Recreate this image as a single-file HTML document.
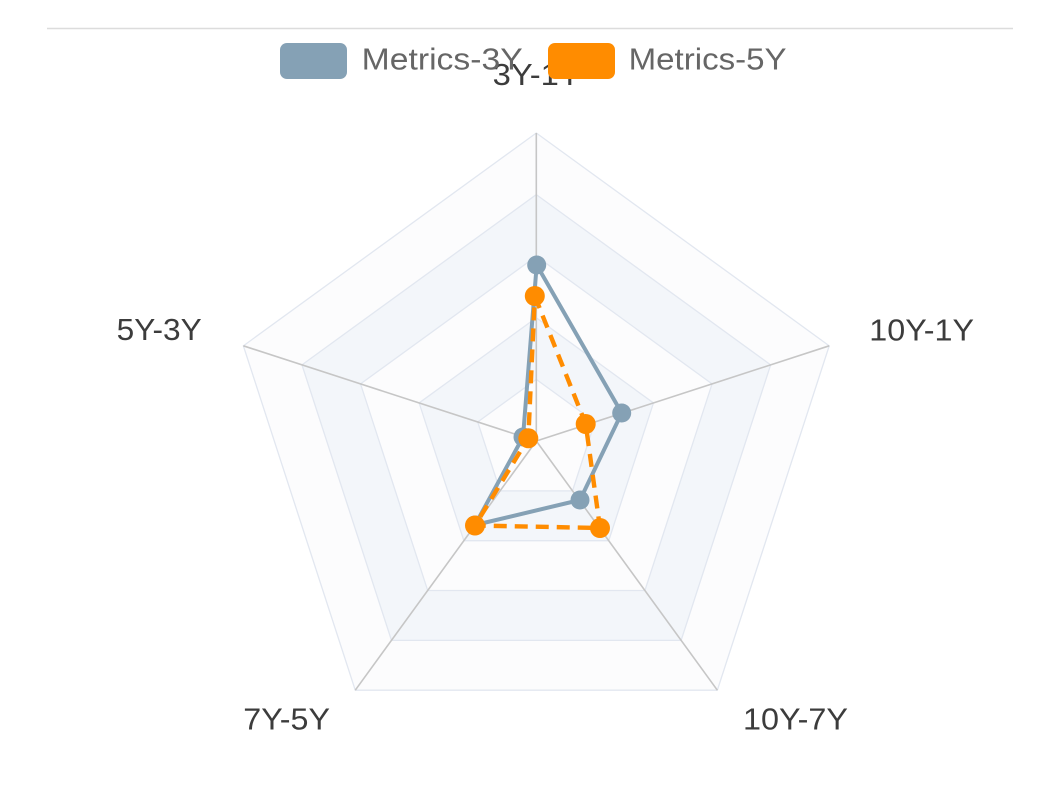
<!DOCTYPE html>
<html>
<head>
<meta charset="utf-8">
<style>
  html,body{margin:0;padding:0;background:#fff;}
  body{width:1060px;height:811px;overflow:hidden;}
  svg{display:block;}
  text{font-family:"Liberation Sans", "DejaVu Sans", sans-serif;}
</style>
</head>
<body>
<svg width="1060" height="811" viewBox="0 0 1060 811" xmlns="http://www.w3.org/2000/svg">
  <rect x="0" y="0" width="1060" height="811" fill="#ffffff"/>
  <!-- top rule -->
  <line x1="47" y1="28.5" x2="1013" y2="28.5" stroke="#dcdcdc" stroke-width="1.6"/>

  <!-- split areas (bands) -->
  <polygon points="536.3,133 829.23,345.82 717.34,690.18 355.26,690.18 243.37,345.82" fill="#fcfcfd" stroke="#e2e7f0" stroke-width="1.3"/>
  <polygon points="536.3,194.6 770.64,364.86 681.13,640.34 391.47,640.34 301.96,364.86" fill="#f3f6fa" stroke="#e2e7f0" stroke-width="1.3"/>
  <polygon points="536.3,256.2 712.06,383.89 644.92,590.51 427.68,590.51 360.54,383.89" fill="#fcfcfd" stroke="#e2e7f0" stroke-width="1.3"/>
  <polygon points="536.3,317.8 653.47,402.93 608.72,540.67 463.88,540.67 419.13,402.93" fill="#f3f6fa" stroke="#e2e7f0" stroke-width="1.3"/>
  <polygon points="536.3,379.4 594.89,421.96 572.51,490.84 500.09,490.84 477.71,421.96" fill="#fcfcfd" stroke="#e2e7f0" stroke-width="1.3"/>

  <!-- axis lines -->
  <g stroke="#c6c6c6" stroke-width="1.6">
    <line x1="536.3" y1="441" x2="536.3" y2="133"/>
    <line x1="536.3" y1="441" x2="829.23" y2="345.82"/>
    <line x1="536.3" y1="441" x2="717.34" y2="690.18"/>
    <line x1="536.3" y1="441" x2="355.26" y2="690.18"/>
    <line x1="536.3" y1="441" x2="243.37" y2="345.82"/>
  </g>

  <!-- axis labels -->
  <g fill="#3c3c3c" font-size="31">
    <text x="492.7" y="85" textLength="88" lengthAdjust="spacingAndGlyphs">3Y-1Y</text>
    <text x="869.3" y="340.7" textLength="104.7" lengthAdjust="spacingAndGlyphs">10Y-1Y</text>
    <text x="116.7" y="340" textLength="85" lengthAdjust="spacingAndGlyphs">5Y-3Y</text>
    <text x="243.3" y="729.3" textLength="86.7" lengthAdjust="spacingAndGlyphs">7Y-5Y</text>
    <text x="743" y="729.3" textLength="105" lengthAdjust="spacingAndGlyphs">10Y-7Y</text>
  </g>

  <!-- Series: Metrics-3Y -->
  <polygon points="536.7,265 621.7,413 580,500 475,525 523,437" fill="none" stroke="#85a1b5" stroke-width="4" stroke-linejoin="round"/>
  <g fill="#85a1b5">
    <circle cx="536.7" cy="265" r="9.5"/>
    <circle cx="621.7" cy="413" r="9.5"/>
    <circle cx="580" cy="500" r="9.5"/>
    <circle cx="475" cy="525" r="9.5"/>
    <circle cx="523" cy="437" r="9.5"/>
  </g>

  <!-- Series: Metrics-5Y -->
  <polygon points="534.8,296 585.7,424 600,528 475,525.5 528.3,438.3" fill="none" stroke="#ff8c00" stroke-width="4.4" stroke-dasharray="13,8" stroke-linejoin="round"/>
  <g fill="#ff8c00">
    <circle cx="534.8" cy="296" r="10"/>
    <circle cx="585.7" cy="424" r="10"/>
    <circle cx="600" cy="528" r="10"/>
    <circle cx="475" cy="525.5" r="10"/>
    <circle cx="528.3" cy="438.3" r="10"/>
  </g>

  <!-- legend -->
  <rect x="280" y="43" width="67" height="36" rx="7" ry="7" fill="#85a1b5"/>
  <text x="361.7" y="69.3" font-size="31" fill="#666666" textLength="161" lengthAdjust="spacingAndGlyphs">Metrics-3Y</text>
  <rect x="548" y="43" width="67" height="36" rx="7" ry="7" fill="#ff8c00"/>
  <text x="628.6" y="69.3" font-size="31" fill="#666666" textLength="158" lengthAdjust="spacingAndGlyphs">Metrics-5Y</text>
</svg>
</body>
</html>
